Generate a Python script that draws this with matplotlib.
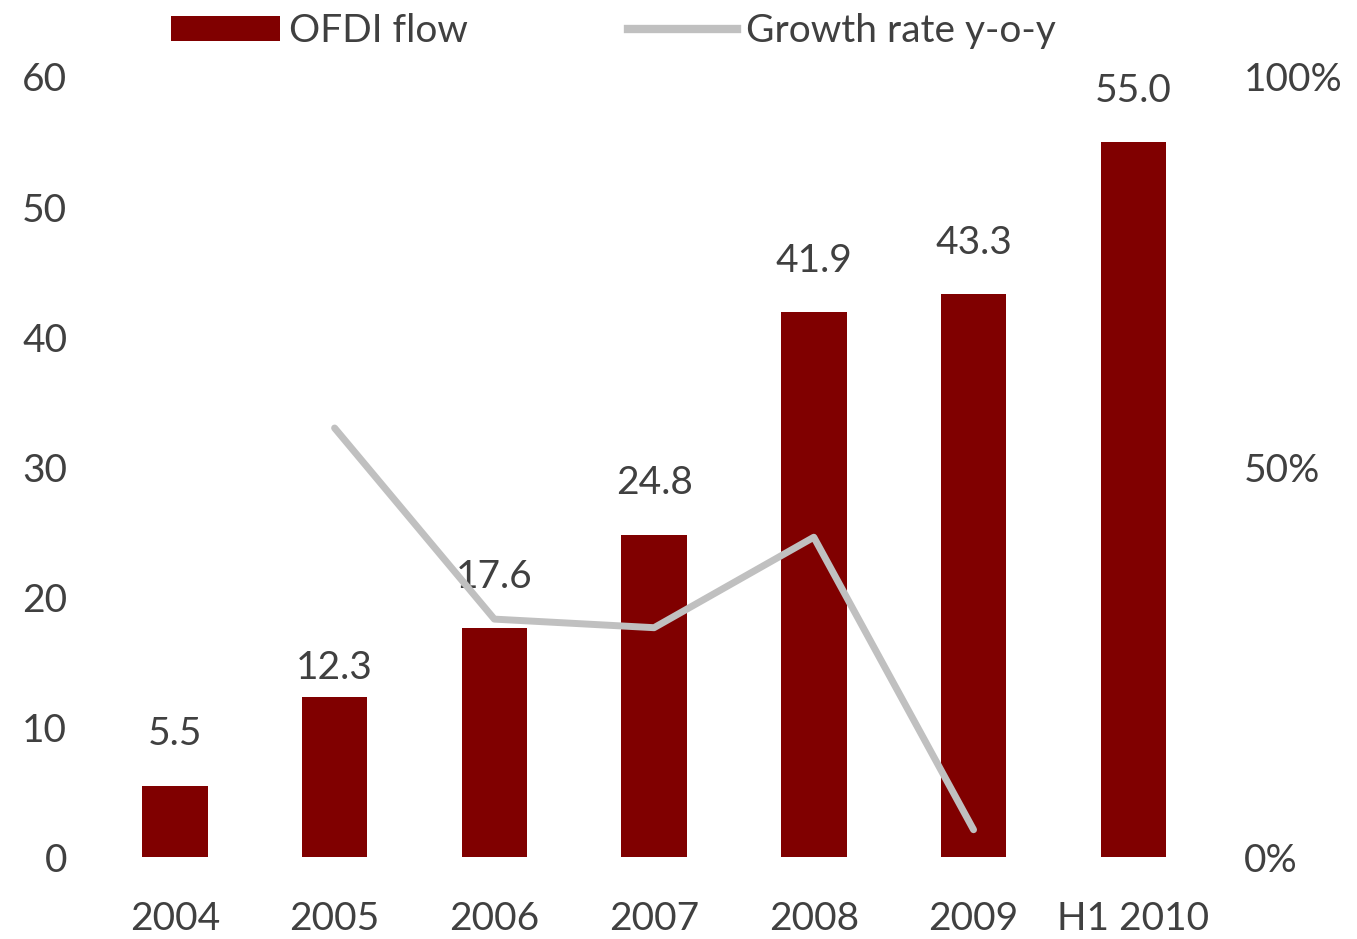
import matplotlib.pyplot as plt
from matplotlib.patches import Patch
from matplotlib.lines import Line2D

plt.rcParams['font.family'] = ['Lato', 'DejaVu Sans']

categories = ['2004', '2005', '2006', '2007', '2008', '2009', 'H1 2010']
ofdi_flow = [5.5, 12.3, 17.6, 24.8, 41.9, 43.3, 55.0]
growth_years = ['2005', '2006', '2007', '2008', '2009']
growth_rate = [55.0, 30.5, 29.4, 41.0, 3.5]

bar_color = '#800000'
line_color = '#C0C0C0'
text_color = '#404040'
fs = 28
# label offsets above bars (points); Excel nudged the 2005 label down
label_offsets = [37, 21, 37, 37, 37, 37, 37]

fig = plt.figure(figsize=(13.57, 9.39), dpi=100)
ax = fig.add_axes([0.070, 0.0873, 0.824, 0.8307])
ax2 = ax.twinx()

x = list(range(len(categories)))
ax.bar(x, ofdi_flow, width=0.41, color=bar_color, zorder=1)
for xi, v, off in zip(x, ofdi_flow, label_offsets):
    ax.annotate(f'{v:.1f}', (xi, v), xytext=(0, off), textcoords='offset points',
                ha='center', va='center', fontsize=fs, color=text_color)

gx = [categories.index(c) for c in growth_years]
ax2.plot(gx, growth_rate, color=line_color, linewidth=5, solid_capstyle='round', zorder=3)

ax.set_xlim(-0.5, len(categories) - 0.5)
ax.set_ylim(0, 60)
ax.set_yticks(range(0, 61, 10))
ax2.set_ylim(0, 100)
ax2.set_yticks([0, 50, 100])
ax2.set_yticklabels(['0%', '50%', '100%'])
ax.set_xticks(x)
ax.set_xticklabels(categories)

for a in (ax, ax2):
    for s in a.spines.values():
        s.set_visible(False)
    a.tick_params(length=0, labelsize=fs, colors=text_color)
ax.tick_params(axis='x', pad=32)
ax.tick_params(axis='y', pad=20)
ax2.tick_params(axis='y', pad=22)
ax.set_zorder(ax2.get_zorder() - 1)
ax2.patch.set_visible(False)

handles = [Patch(facecolor=bar_color, edgecolor='none'),
           Line2D([0], [0], color=line_color, linewidth=6)]
fig.legend(handles, ['OFDI flow', 'Growth rate y-o-y'], ncol=2, loc='center',
           bbox_to_anchor=(0.452, 0.967), frameon=False, fontsize=fs,
           labelcolor=text_color, handlelength=2.8, handleheight=0.6,
           handletextpad=0.25, columnspacing=4.1)

fig.savefig('out.png', dpi=100)
